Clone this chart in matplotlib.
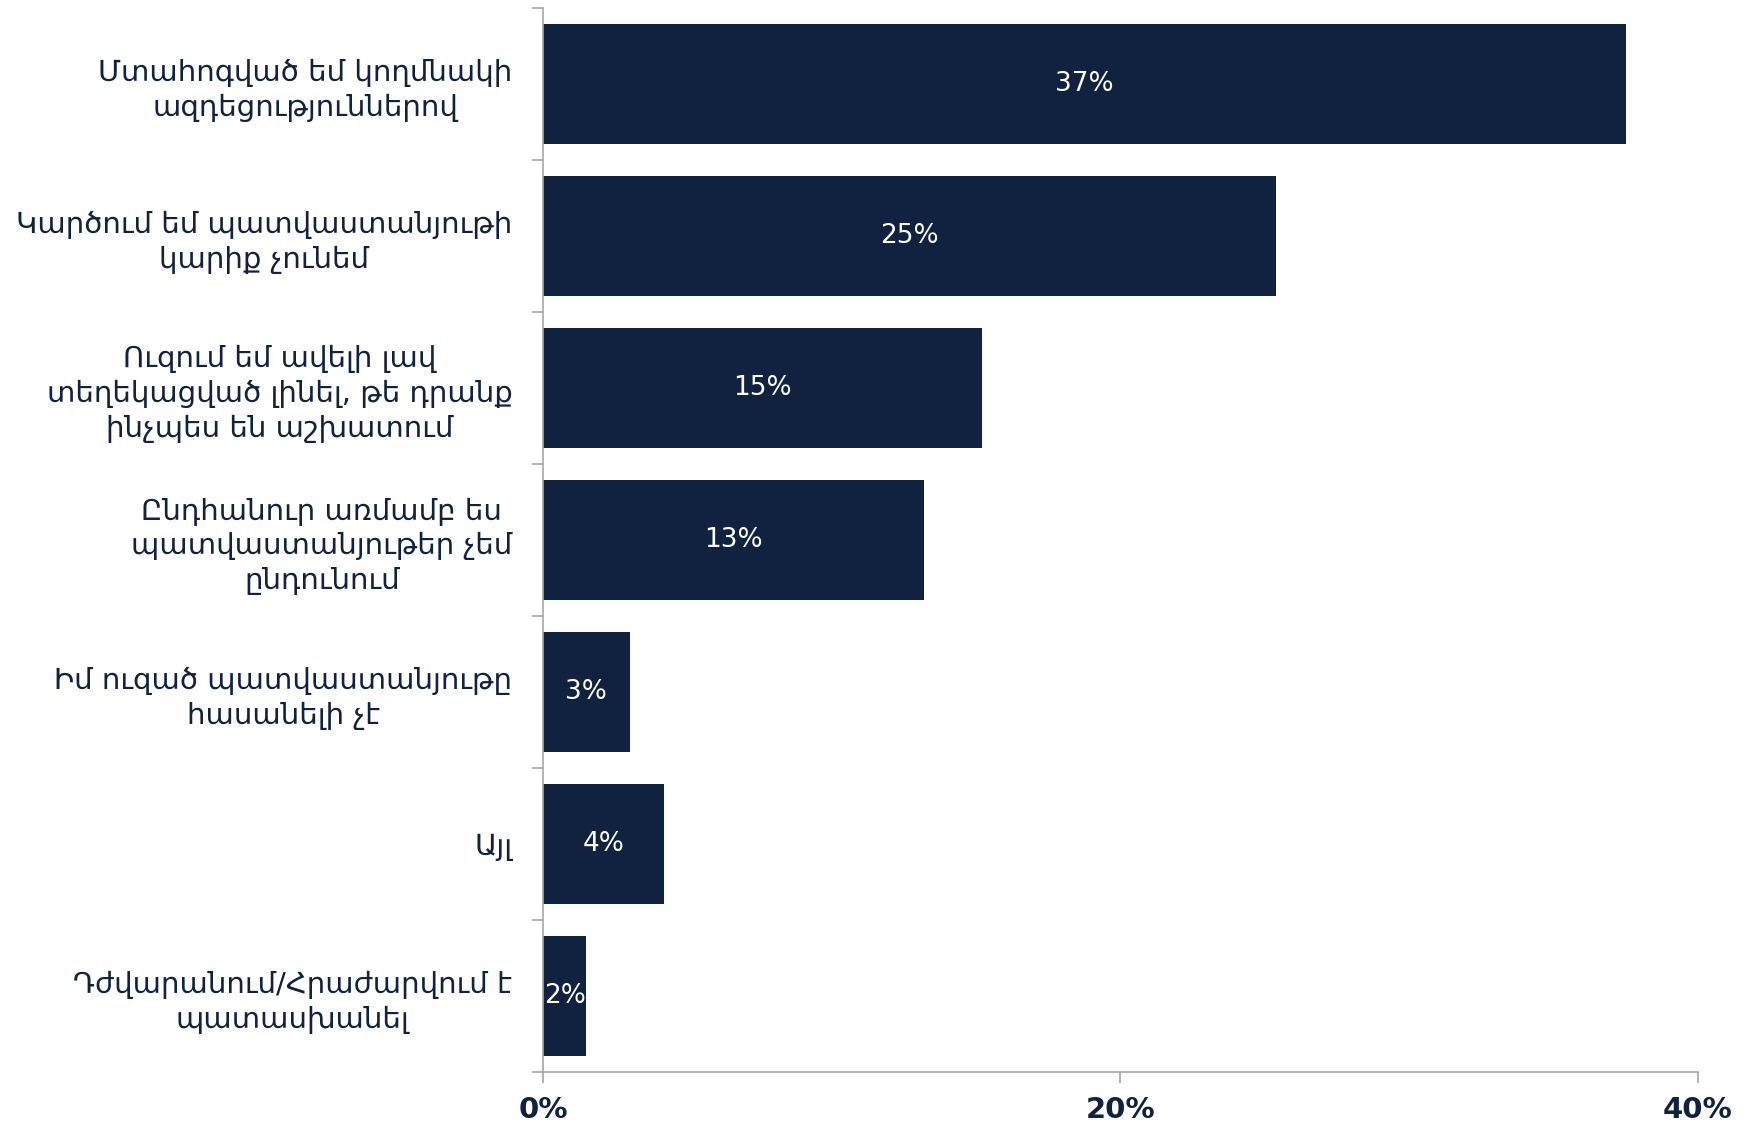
import numpy as np
import matplotlib
matplotlib.use('Agg')
import matplotlib.pyplot as plt

# categories top to bottom
labels = [
    'Մտահոգված եմ կողմնակի\nազդեցություններով',
    'Կարծում եմ պատվաստանյութի\nկարիք չունեմ',
    'Ուզում եմ ավելի լավ\nտեղեկացված լինել, թե դրանք\nինչպես են աշխատում',
    'Ընդհանուր առմամբ ես\nպատվաստանյութեր չեմ\nընդունում',
    'Իմ ուզած պատվաստանյութը\nհասանելի չէ',
    'Այլ',
    'Դժվարանում/Հրաժարվում է\nպատասխանել',
]
values = [37.5, 25.4, 15.2, 13.2, 3.0, 4.2, 1.5]
value_labels = ['37%', '25%', '15%', '13%', '3%', '4%', '2%']
xticks = [0, 20, 40]
xtick_labels = ['0%', '20%', '40%']

navy = '#10223f'
grey = '#a6a6a6'

plt.rcParams['font.family'] = ['DejaVu Sans']

fig = plt.figure(figsize=(17.48, 11.26), dpi=100)
ax = fig.add_axes([0.3106, 0.048, 0.6608, 0.945])

y = np.arange(len(labels))
ax.barh(y, values, height=0.79, color=navy)
for yi, v, t in zip(y, values, value_labels):
    ax.text(v / 2, yi, t, color='white', ha='center', va='center', fontsize=19)

ax.set_ylim(len(labels) - 0.5, -0.5)
ax.set_xlim(0, 40)
ax.set_yticks(np.arange(len(labels) + 1) - 0.5, minor=False)
ax.set_yticklabels([])
ax.set_yticks(y, minor=True)
ax.set_yticklabels(labels, minor=True, fontsize=21, color=navy, ha='right',
                   multialignment='center', linespacing=1.3)
ax.tick_params(axis='y', which='minor', length=0, pad=22)
ax.tick_params(axis='y', which='major', length=8, color=grey, width=1.2)

ax.set_xticks(xticks)
ax.set_xticklabels(xtick_labels, fontsize=21, fontweight='bold', color=navy,
                   family=['Liberation Sans Narrow', 'DejaVu Sans'])
ax.tick_params(axis='x', length=8, color=grey, width=1.2, pad=9)

for s in ['top', 'right']:
    ax.spines[s].set_visible(False)
ax.spines['left'].set_color(grey)
ax.spines['bottom'].set_color(grey)
ax.spines['left'].set_linewidth(1.2)
ax.spines['bottom'].set_linewidth(1.2)

fig.savefig('out.png', dpi=100)
